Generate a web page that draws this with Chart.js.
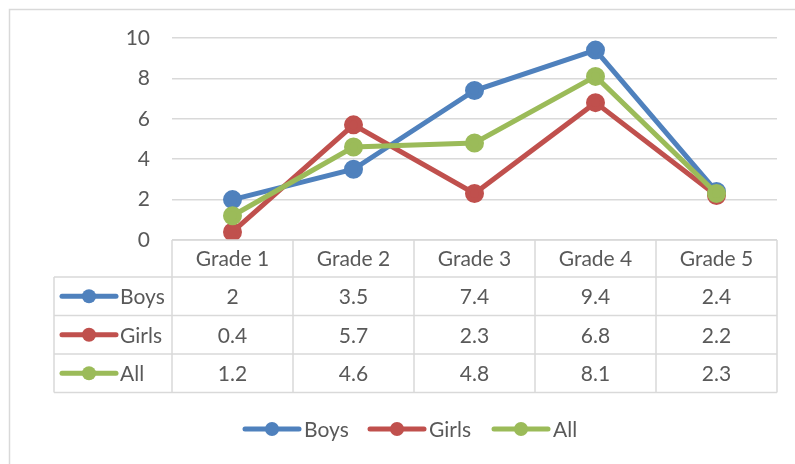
<!DOCTYPE html>
<html>
<head>
<meta charset="utf-8">
<script src="https://cdn.jsdelivr.net/npm/chart.js@4"></script>
<style>
  body { margin: 0; background: #fff; }
</style>
</head>
<body>
<canvas id="chart" width="795" height="464"></canvas>
<script>
const grades = ['Grade 1', 'Grade 2', 'Grade 3', 'Grade 4', 'Grade 5'];
const boys = [2, 3.5, 7.4, 9.4, 2.4];
const girls = [0.4, 5.7, 2.3, 6.8, 2.2];
const all = [1.2, 4.6, 4.8, 8.1, 2.3];
const seriesNames = ['Boys', 'Girls', 'All'];
const seriesColors = ['#4f81bd', '#c0504d', '#9bbb59'];

const FONT = '21px Lato, "Open Sans", sans-serif';
const TEXT = '#595959';
const LINE = '#d9d9d9';

function drawKey(ctx, x, y, color) {
    ctx.save();
    ctx.strokeStyle = color;
    ctx.lineWidth = 5;
    ctx.lineCap = 'round';
    ctx.beginPath();
    ctx.moveTo(x, y);
    ctx.lineTo(x + 54, y);
    ctx.stroke();
    ctx.fillStyle = color;
    ctx.beginPath();
    ctx.arc(x + 27, y, 7, 0, 2 * Math.PI);
    ctx.fill();
    ctx.restore();
}

// frame, data table and legend in the Excel style
const tablePlugin = {
    id: 'dataTable',
    beforeDraw(chart) {
        const ctx = chart.ctx;
        ctx.save();
        ctx.fillStyle = '#fff';
        ctx.fillRect(0, 0, chart.width, chart.height);
        ctx.strokeStyle = LINE;
        ctx.lineWidth = 1.5;
        ctx.strokeRect(9.5, 9.5, 900, 600);
        ctx.restore();
    },
    afterDraw(chart) {
        const ctx = chart.ctx;
        const x = chart.scales.x;
        const y = chart.scales.y;
        const step = x.getPixelForValue(1) - x.getPixelForValue(0);
        const top = y.getPixelForValue(0);
        const headH = 37, rowH = 38.5, keyLeft = 54;
        const left = x.getPixelForValue(0) - step / 2;
        const right = x.getPixelForValue(grades.length - 1) + step / 2;
        const rows = [boys, girls, all];
        const bottom = top + headH + rowH * rows.length;

        ctx.save();
        ctx.strokeStyle = LINE;
        ctx.lineWidth = 1.5;
        ctx.beginPath();
        // header row
        ctx.moveTo(left, top);
        ctx.lineTo(right, top);
        for (let r = 0; r <= rows.length; r++) {
            const yy = top + headH + r * rowH;
            ctx.moveTo(keyLeft, yy);
            ctx.lineTo(right, yy);
        }
        for (let i = 0; i <= grades.length; i++) {
            const xx = left + i * step;
            ctx.moveTo(xx, top);
            ctx.lineTo(xx, bottom);
        }
        ctx.moveTo(keyLeft, top + headH);
        ctx.lineTo(keyLeft, bottom);
        ctx.stroke();

        ctx.font = FONT;
        ctx.fillStyle = TEXT;
        ctx.textAlign = 'center';
        ctx.textBaseline = 'middle';
        grades.forEach((g, i) => {
            ctx.fillText(g, x.getPixelForValue(i), top + headH / 2 + 1);
        });
        rows.forEach((vals, r) => {
            const yy = top + headH + r * rowH + rowH / 2 + 1;
            vals.forEach((v, i) => {
                ctx.fillText(String(v), x.getPixelForValue(i), yy);
            });
        });

        ctx.textAlign = 'left';
        rows.forEach((vals, r) => {
            const yy = top + headH + r * rowH + rowH / 2;
            drawKey(ctx, 62, yy, seriesColors[r]);
            ctx.fillStyle = TEXT;
            ctx.fillText(seriesNames[r], 120, yy + 1);
        });

        // legend
        const legendY = 429;
        const legendX = [245, 370, 494];
        seriesNames.forEach((name, r) => {
            drawKey(ctx, legendX[r], legendY, seriesColors[r]);
            ctx.fillStyle = TEXT;
            ctx.fillText(name, legendX[r] + 59, legendY + 1);
        });
        ctx.restore();
    }
};

new Chart('chart', {
    type: 'line',
    data: {
        labels: grades,
        datasets: [boys, girls, all].map((d, i) => ({
            label: seriesNames[i],
            data: d,
            borderColor: seriesColors[i],
            backgroundColor: seriesColors[i],
            borderWidth: 5,
            pointRadius: 7,
            pointHoverRadius: 7,
            lineTension: 0,
            fill: false,
            order: 3 - i
        }))
    },
    options: {
        responsive: false,
        animation: false,
        layout: {
            padding: { top: 38, right: 18, bottom: 224, left: 0 }
        },
        plugins: {
            legend: { display: false },
            tooltip: { enabled: false }
        },
        scales: {
            x: {
                display: false,
                offset: true
            },
            y: {
                min: 0,
                max: 10,
                ticks: {
                    stepSize: 2,
                    padding: 22,
                    color: TEXT,
                    font: { family: 'Lato, "Open Sans", sans-serif', size: 21 }
                },
                grid: {
                    color: LINE,
                    lineWidth: 1.5,
                    drawTicks: false
                },
                border: { display: false },
                afterFit(scale) {
                    scale.width = 172;
                }
            }
        }
    },
    plugins: [tablePlugin]
});
</script>
</body>
</html>
